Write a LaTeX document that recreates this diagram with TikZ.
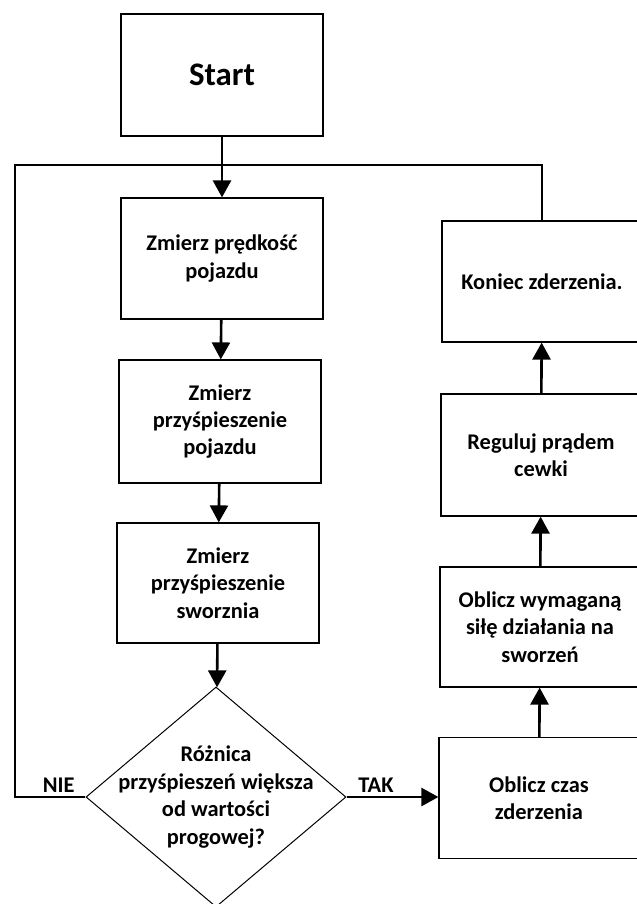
\documentclass[tikz,border=0pt]{standalone}
\usepackage{fontspec}
\setmainfont{Carlito}
\usetikzlibrary{shapes.geometric,arrows.meta}

\tikzset{
  box/.style={shape=rectangle, draw=black, line width=1.2bp, minimum width=202bp, minimum height=121bp, align=center, font=\fontsize{22.5}{27.5}\selectfont\bfseries},
  rbox/.style={box, minimum width=200bp},
  decision/.style={shape=diamond, draw=black, line width=1bp, minimum width=260bp, minimum height=220bp, inner sep=0pt},
  lbl/.style={font=\fontsize{22.5}{27.5}\selectfont\bfseries},
  flow/.style={line width=2.6bp},
  arr/.style={flow, -{Triangle[width=18bp,length=17bp]}},
}

\begin{document}
\begin{tikzpicture}[x=1bp, y=1bp]
\useasboundingbox (0,0) rectangle (637,-904);

% left column
\node[box, minimum height=122bp, font=\fontsize{33}{40}\selectfont\bfseries](S) at (222,-75) {Start};
\node[box](V) at (222,-258.5) {Zmierz prędkość\\pojazdu};
\node[box, minimum height=123bp](AV) at (220,-421.5) {Zmierz\\przyśpieszenie\\pojazdu};
\node[box, minimum height=120bp](AS) at (218,-583) {Zmierz\\przyśpieszenie\\sworznia};
\node[decision](D) at (216,-797) {};
\node[lbl, align=center](DT) at (216,-797) {Różnica\\przyśpieszeń większa\\od wartości\\progowej?};

% right column
\node[rbox](T) at (539,-798) {Oblicz czas\\zderzenia};
\node[rbox, minimum height=120bp](F) at (540,-627) {Oblicz wymaganą\\siłę działania na\\sworzeń};
\node[rbox, minimum height=122bp](R) at (541,-455) {Reguluj prądem\\cewki};
\node[rbox](K) at (542,-281.5) {Koniec zderzenia.};

\coordinate (L) at (15,-165);

\path[arr] (S) edge (V);
\path[arr] (V) edge (AV);
\path[arr] (AV) edge (AS);
\path[arr] (AS) edge (D);

\draw[flow] (D.west) -| node[lbl, pos=0.19, above] {NIE} (L) -| (K.north);
\draw[arr] (D.east) -- node[lbl, pos=0.32, above] {TAK} (D.east -| T.west);

\path[arr] (T) edge (F);
\path[arr] (F) edge (R);
\path[arr] (R) edge (K);
\end{tikzpicture}
\end{document}
